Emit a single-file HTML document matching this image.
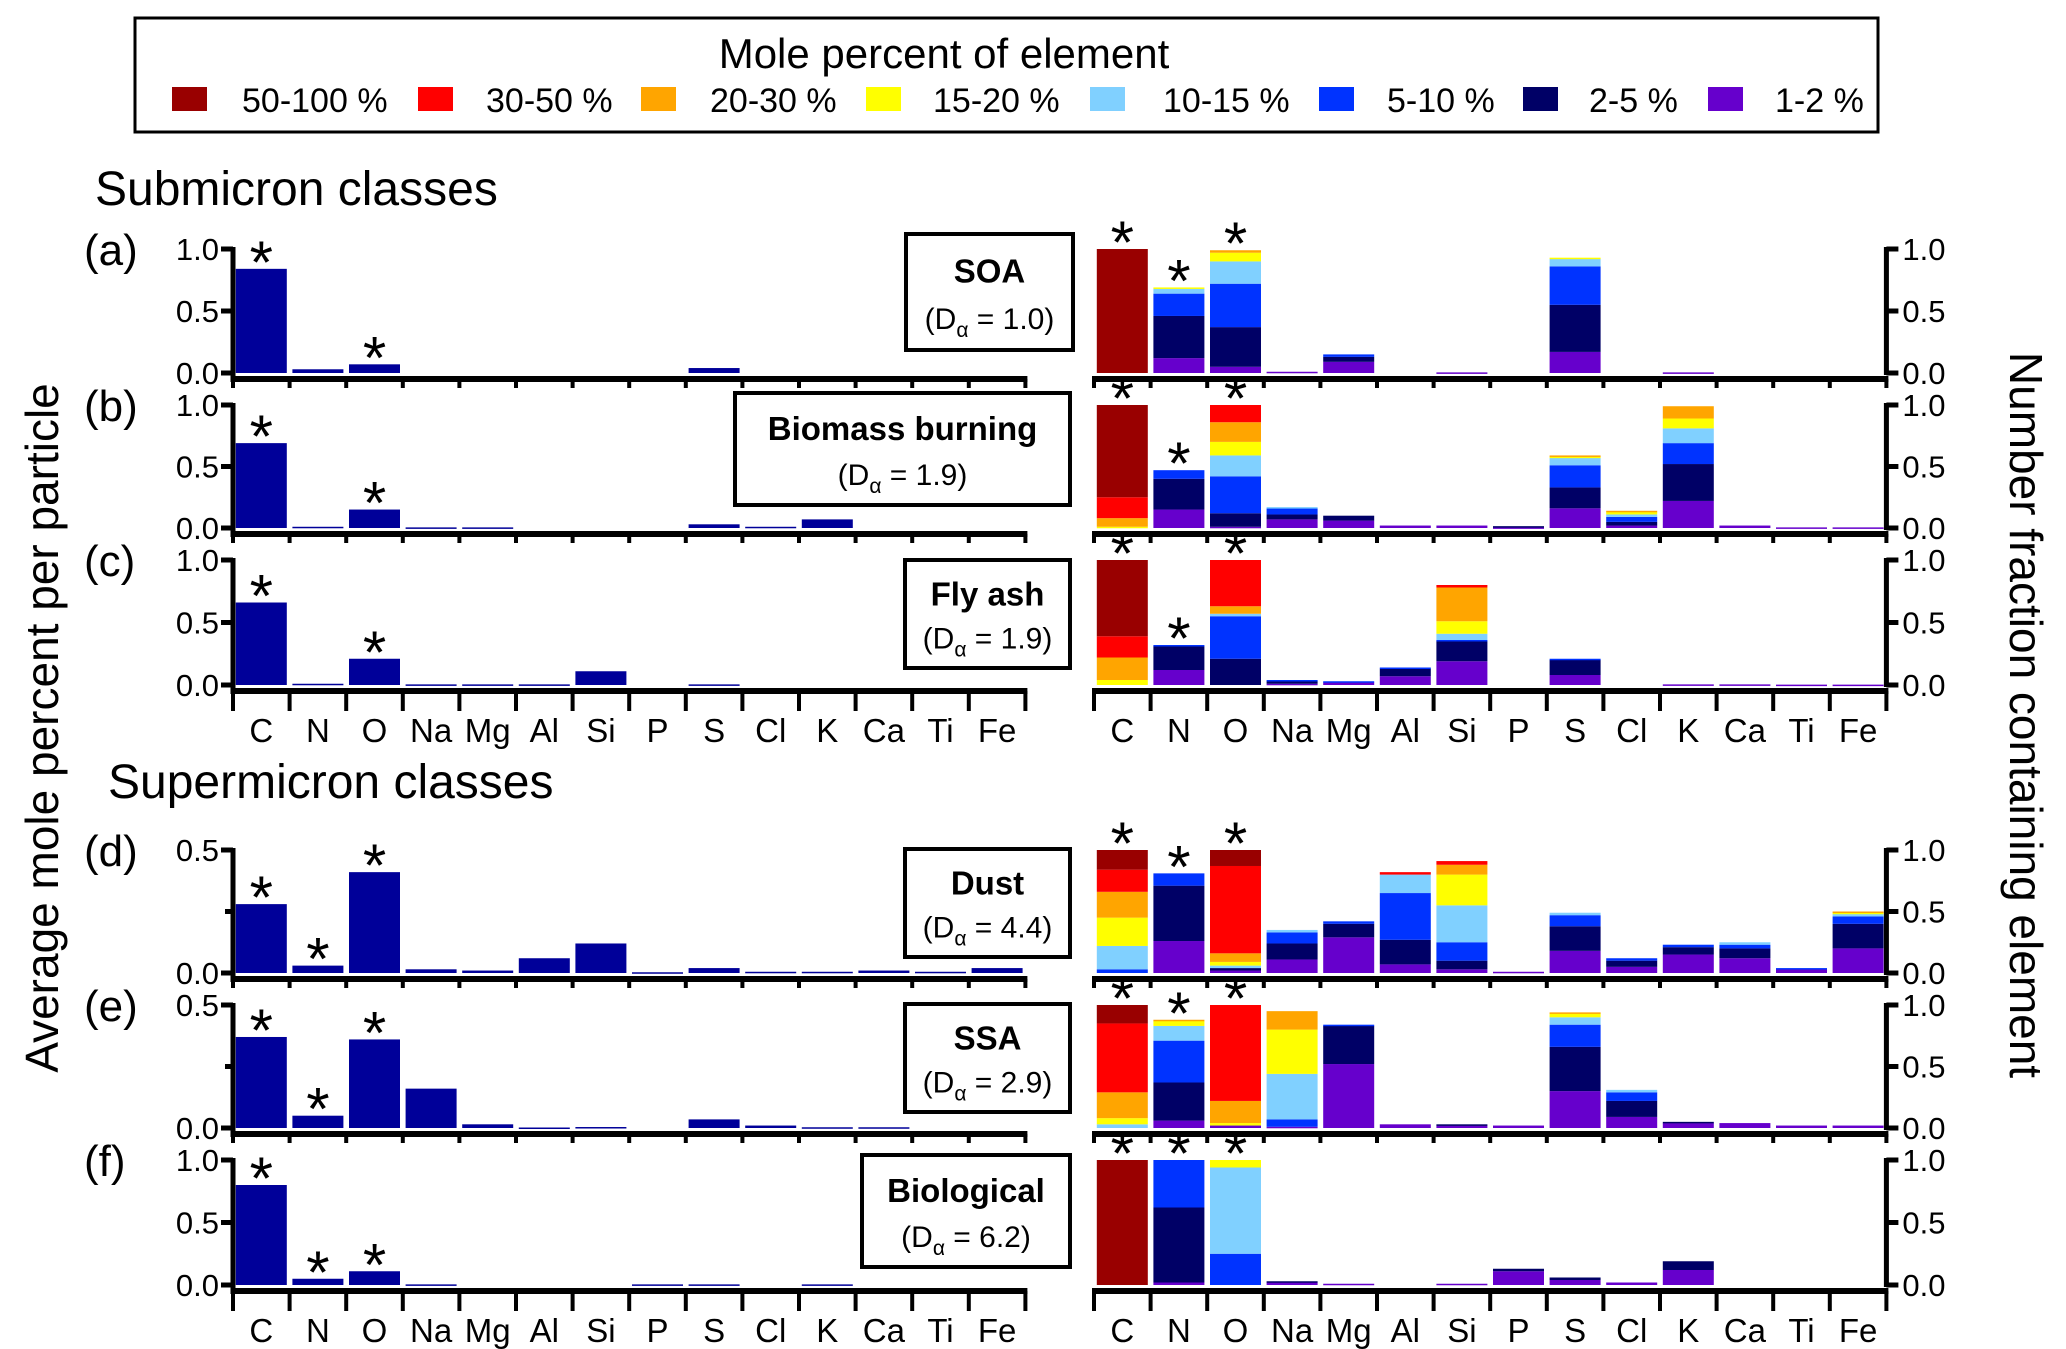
<!DOCTYPE html>
<html><head><meta charset="utf-8">
<style>
html,body{margin:0;padding:0;background:#fff;}
svg{display:block;font-family:"Liberation Sans",Arial,sans-serif;}
</style></head>
<body>
<svg id="chart" width="2066" height="1349" viewBox="0 0 2066 1349" xmlns="http://www.w3.org/2000/svg">
<g>
<rect x="135" y="18" width="1743" height="114" fill="none" stroke="#000" stroke-width="3"/>
<text x="944" y="68" font-size="42" text-anchor="middle">Mole percent of element</text>
<g id="legendItems"></g>
</g>
<text x="95" y="205" font-size="48">Submicron classes</text>
<text x="108" y="798" font-size="48">Supermicron classes</text>
<text transform="translate(58,728) rotate(-90)" font-size="46" text-anchor="middle">Average mole percent per particle</text>
<text transform="translate(2010,715) rotate(90)" font-size="46" text-anchor="middle">Number fraction containing element</text>
<g id="panels"></g>
</svg>
<script>
// categories
const elements = ["C","N","O","Na","Mg","Al","Si","P","S","Cl","K","Ca","Ti","Fe"];
const binLabels = ["50-100 %","30-50 %","20-30 %","15-20 %","10-15 %","5-10 %","2-5 %","1-2 %"];
const binColors = ["#990000","#ff0000","#ffa500","#ffff00","#80d0ff","#0033ff","#000066","#6600cc"];
// stack order bottom->top: 1-2, 2-5, 5-10, 10-15, 15-20, 20-30, 30-50, 50-100
const stackColors = ["#6600cc","#000066","#0033ff","#80d0ff","#ffff00","#ffa500","#ff0000","#990000"];
const classNames = ["SOA","Biomass burning","Fly ash","Dust","SSA","Biological"];
const classDa = ["1.0","1.9","1.9","4.4","2.9","6.2"];
const panelLetters = ["(a)","(b)","(c)","(d)","(e)","(f)"];
const leftMax = [1.0,1.0,1.0,0.5,0.5,1.0];
// left: average mole percent per particle
const moleA = [0.84,0.03,0.07,0,0,0,0,0,0.04,0,0,0,0,0];
const moleB = [0.69,0.01,0.15,0.005,0.005,0,0,0,0.03,0.01,0.07,0,0,0];
const moleC = [0.66,0.01,0.21,0.005,0.005,0.005,0.11,0,0.005,0,0,0,0,0];
const moleD = [0.28,0.03,0.41,0.015,0.01,0.06,0.12,0.003,0.02,0.005,0.005,0.01,0.005,0.02];
const moleE = [0.37,0.05,0.36,0.16,0.015,0.002,0.004,0,0.035,0.01,0.003,0.003,0,0];
const moleF = [0.80,0.05,0.11,0.005,0,0,0,0.005,0.005,0,0.005,0,0,0];
const moleAll = [moleA,moleB,moleC,moleD,moleE,moleF];
const starsLeftA = ["C","O"], starsLeftB = ["C","O"], starsLeftC = ["C","O"];
const starsLeftD = ["C","N","O"], starsLeftE = ["C","N","O"], starsLeftF = ["C","N","O"];
const starsLeft = [starsLeftA,starsLeftB,starsLeftC,starsLeftD,starsLeftE,starsLeftF];
const starsRight = ["C","N","O"];
// right: number fraction segments [1-2,2-5,5-10,10-15,15-20,20-30,30-50,50-100]
const fracA = [[0,0,0,0,0,0,0,1.0],[.12,.34,.18,.04,.01,0,0,0],[.05,.32,.35,.18,.07,.02,0,0],[.01,0,0,0,0,0,0,0],[.09,.04,.02,0,0,0,0,0],[0,0,0,0,0,0,0,0],[.005,0,0,0,0,0,0,0],[0,0,0,0,0,0,0,0],[.17,.38,.31,.06,.01,0,0,0],[0,0,0,0,0,0,0,0],[.005,0,0,0,0,0,0,0],[0,0,0,0,0,0,0,0],[0,0,0,0,0,0,0,0],[0,0,0,0,0,0,0,0]];
const fracB = [[0,0,0,0,.01,.07,.17,.75],[.15,.25,.07,0,0,0,0,0],[.01,.11,.30,.17,.11,.16,.14,0],[.07,.04,.05,.01,0,0,0,0],[.06,.04,0,0,0,0,0,0],[.02,0,0,0,0,0,0,0],[.02,0,0,0,0,0,0,0],[.005,.01,0,0,0,0,0,0],[.16,.17,.18,.06,.01,.01,0,0],[.02,.03,.04,.02,.02,.01,0,0],[.22,.30,.17,.12,.08,.10,0,0],[.02,0,0,0,0,0,0,0],[.005,0,0,0,0,0,0,0],[.005,0,0,0,0,0,0,0]];
const fracC = [[0,0,0,0,.04,.18,.17,.61],[.12,.19,.01,0,0,0,0,0],[0,.21,.34,.02,0,.06,.37,0],[.01,.02,.01,0,0,0,0,0],[.02,0,.01,0,0,0,0,0],[.07,.06,.01,0,0,0,0,0],[.19,.16,.01,.05,.10,.27,.02,0],[0,0,0,0,0,0,0,0],[.08,.12,.01,0,0,0,0,0],[0,0,0,0,0,0,0,0],[.005,0,0,0,0,0,0,0],[.005,0,0,0,0,0,0,0],[.003,0,0,0,0,0,0,0],[.003,0,0,0,0,0,0,0]];
const fracD = [[0,0,.03,.19,.23,.21,.18,.16],[.26,.45,.10,0,0,0,0,0],[.02,.02,0,.02,.03,.07,.71,.13],[.11,.13,.09,.02,0,0,0,0],[.29,.11,.02,0,0,0,0,0],[.07,.20,.38,.15,0,0,.02,0],[.03,.07,.15,.30,.25,.08,.03,0],[.01,0,0,0,0,0,0,0],[.18,.20,.09,.02,0,0,0,0],[.05,.05,.02,0,0,0,0,0],[.15,.06,.02,0,0,0,0,0],[.12,.08,.03,.02,0,0,0,0],[.03,0,.01,0,0,0,0,0],[.20,.20,.06,.02,.01,.01,0,0]];
const fracE = [[0,0,0,.03,.05,.21,.56,.15],[.06,.31,.34,.12,.04,.01,0,0],[.02,0,0,0,.02,.18,.78,0],[.01,0,.06,.37,.36,.15,0,0],[.52,.31,.01,0,0,0,0,0],[.03,0,0,0,0,0,0,0],[.02,.01,0,0,0,0,0,0],[.02,0,0,0,0,0,0,0],[.30,.36,.18,.06,.03,.01,0,0],[.09,.13,.07,.02,0,0,0,0],[.04,.01,0,0,0,0,0,0],[.04,0,0,0,0,0,0,0],[.02,0,0,0,0,0,0,0],[.02,0,0,0,0,0,0,0]];
const fracF = [[0,0,0,0,0,0,0,1.0],[.02,.60,.38,0,0,0,0,0],[0,0,.25,.69,.06,0,0,0],[.02,.01,0,0,0,0,0,0],[.01,0,0,0,0,0,0,0],[0,0,0,0,0,0,0,0],[.01,0,0,0,0,0,0,0],[.11,.02,0,0,0,0,0,0],[.04,.02,0,0,0,0,0,0],[.02,0,0,0,0,0,0,0],[.12,.07,0,0,0,0,0,0],[0,0,0,0,0,0,0,0],[0,0,0,0,0,0,0,0],[0,0,0,0,0,0,0,0]];
const fracAll = [fracA,fracB,fracC,fracD,fracE,fracF];

const NS = "http://www.w3.org/2000/svg";
function mk(tag, attrs, parent){ const e=document.createElementNS(NS,tag); for(const k in attrs) e.setAttribute(k,attrs[k]); parent.appendChild(e); return e; }

// layout
const rows = [{base:373,top:249},{base:528,top:405},{base:685,top:560},{base:973,top:850},{base:1128,top:1005},{base:1285,top:1160}];
const Lx0 = 233, Rx0 = 1094, slot = 56.6, barW = 51;
const boxes = [[906,234,1073,350],[735,393,1070,505],[905,560,1070,668],[905,849,1070,957],[905,1004,1070,1112],[862,1155,1070,1267]];

// legend
const lg = document.getElementById('legendItems');
const lgSq = [172,418,641,866,1090,1319,1523,1708];
const lgTx = [242,486,710,933,1163,1387,1589,1775];
binLabels.forEach((lab,i)=>{
  const r = mk('rect',{x:lgSq[i],y:87,width:35,height:24,fill:binColors[i]},lg);
  
  
  const t = mk('text',{x:lgTx[i],y:112,'font-size':34},lg);
  t.textContent = lab;
  
  
});

const P = document.getElementById('panels');
function xL(i){ return Lx0 + slot*i + (slot-barW)/2; }
function xR(i){ return Rx0 + slot*i + (slot-barW)/2; }
const STAR_FS = 60, STAR_OFF = 14;

rows.forEach((row,p)=>{
  const g = mk('g',{},P);
  
  
  const H = row.base-row.top;
  const yL = v => row.base - v/leftMax[p]*H;
  const yR = v => row.base - v*H;
  const axisY = row.base+6;
  const showX = (p===2||p===5);
  // left bars
  moleAll[p].forEach((v,i)=>{
    if(v<=0) return;
    const b = mk('rect',{x:xL(i),y:yL(v),width:barW,height:Math.max(row.base-yL(v),1.5),fill:'#000099'},g);
    
    
  });
  starsLeft[p].forEach(el=>{
    const i = elements.indexOf(el);
    const t = mk('text',{x:xL(i)+barW/2,y:yL(moleAll[p][i])+STAR_OFF,'font-size':STAR_FS,'text-anchor':'middle'},g);
    t.textContent='*';
    
    
  });
  // left axes
  mk('line',{x1:Lx0,y1:row.top-2,x2:Lx0,y2:axisY+3,stroke:'#000','stroke-width':5},g);
  const ticks = leftMax[p]===1 ? [0,0.5,1.0] : [0,0.25,0.5];
  ticks.forEach(tv=>{
    const y=yL(tv);
    const major = !(leftMax[p]===0.5 && tv===0.25);
    mk('line',{x1:Lx0-(major?12:8),y1:y,x2:Lx0,y2:y,stroke:'#000','stroke-width':5},g);
    if(major){
      const t=mk('text',{x:Lx0-14,y:y+11,'font-size':31,'text-anchor':'end'},g);
      t.textContent = tv.toFixed(1);
      
      
    }
  });
  const pl = mk('text',{x:84,y:row.top+16,'font-size':44},g);
  pl.textContent = panelLetters[p];
  
  
  mk('line',{x1:Lx0-2,y1:axisY,x2:Lx0+slot*14+2,y2:axisY,stroke:'#000','stroke-width':6},g);
  for(let k=0;k<=14;k++){
    const x = Lx0+slot*k;
    mk('line',{x1:x,y1:axisY,x2:x,y2:axisY+(showX?20:9),stroke:'#000','stroke-width':4},g);
    const xr = Rx0+slot*k;
    mk('line',{x1:xr,y1:axisY,x2:xr,y2:axisY+(showX?20:9),stroke:'#000','stroke-width':4},g);
  }
  // right stacked bars
  fracAll[p].forEach((segs,i)=>{
    let cum=0;
    segs.forEach((v,s)=>{
      if(v<=0) return;
      const y0=yR(cum), y1=yR(cum+v);
      const r = mk('rect',{x:xR(i),y:y1,width:barW,height:Math.max(y0-y1,1.5),fill:stackColors[s]},g);
      
      
      cum+=v;
    });
  });
  starsRight.forEach(el=>{
    const i = elements.indexOf(el);
    const tot = fracAll[p][i].reduce((a,b)=>a+b,0);
    const t = mk('text',{x:xR(i)+barW/2,y:yR(tot)+STAR_OFF,'font-size':STAR_FS,'text-anchor':'middle'},g);
    t.textContent='*';
    
    
  });
  // right axes
  const RA = Rx0+slot*14;
  mk('line',{x1:Rx0-2,y1:axisY,x2:RA+2,y2:axisY,stroke:'#000','stroke-width':6},g);
  mk('line',{x1:RA,y1:row.top-2,x2:RA,y2:row.base+2,stroke:'#000','stroke-width':5},g);
  [0,0.5,1.0].forEach(tv=>{
    const y=yR(tv);
    mk('line',{x1:RA,y1:y,x2:RA+12,y2:y,stroke:'#000','stroke-width':5},g);
    const t=mk('text',{x:RA+16,y:y+11,'font-size':31},g);
    t.textContent=tv.toFixed(1);
    
    
  });
  // x labels
  if(showX){
    elements.forEach((el,i)=>{
      [Lx0,Rx0].forEach(x0=>{
        const t=mk('text',{x:x0+slot*i+slot/2,y:axisY+51,'font-size':33,'text-anchor':'middle'},g);
        t.textContent=el;
        
        
      });
    });
  }
  // class box
  const bx = boxes[p];
  const bg = mk('g',{},g);
  
  
  mk('rect',{x:bx[0],y:bx[1],width:bx[2]-bx[0],height:bx[3]-bx[1],fill:'#fff',stroke:'#000','stroke-width':4},bg);
  const cx=(bx[0]+bx[2])/2;
  const t1=mk('text',{x:cx,y:bx[1]+(bx[3]-bx[1])*0.42,'font-size':33,'font-weight':'bold','text-anchor':'middle'},bg);
  t1.textContent=classNames[p];
  const t2=mk('text',{x:cx,y:bx[1]+(bx[3]-bx[1])*0.82,'font-size':30,'text-anchor':'middle'},bg);
  t2.innerHTML='(D<tspan font-size="21" dy="8">α</tspan><tspan dy="-8"> = '+classDa[p]+')</tspan>';
});
</script>
</body></html>
